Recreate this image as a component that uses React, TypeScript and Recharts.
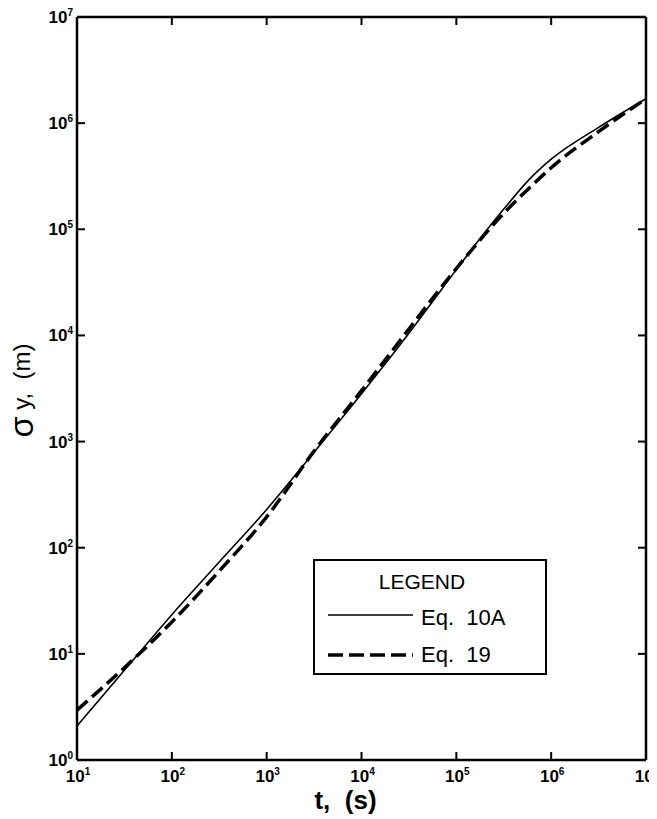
import { Legend, Line, LineChart, XAxis, YAxis } from 'recharts'

// t in seconds, sigma_y in metres
const TIMES = [10, 31.6, 100, 316, 1000, 3162, 10000, 31623, 56234, 100000, 316228, 588844, 1000000, 3162278, 10000000]
const EQ_10A = [2.09, 7.0, 23.4, 73.3, 229, 794, 2818, 10470, 20890, 41690, 154900, 295100, 457100, 912000, 1698000]
const EQ_19 = [2.95, 7.41, 19.95, 60.3, 195, 813, 3020, 11480, 22390, 42660, 141300, 245500, 380200, 831800, 1698000]

const X_TICKS = [10, 100, 1000, 10000, 100000, 1000000, 10000000]
const Y_TICKS = [1, 10, 100, 1000, 10000, 100000, 1000000, 10000000]

const SERIES = [
  { key: 'eq10a', name: 'Eq.  10A', width: 1.6, dash: undefined },
  { key: 'eq19', name: 'Eq.  19', width: 3.5, dash: '14 6' },
]

const data = TIMES.map((t, i) => ({ t, eq10a: EQ_10A[i], eq19: EQ_19[i] }))

const FONT = '"Liberation Sans", Arial, Helvetica, sans-serif'
const AXIS = { stroke: '#000', strokeWidth: 2.5 }
const TICK_LEN = 8

const expOf = (v: number) => Math.round(Math.log10(v))

function Pow({ x, y, e, anchor }: any) {
  return (
    <text x={x} y={y} textAnchor={anchor} fontSize={17} fontWeight="bold" fontFamily={FONT} fill="#000">
      10
      <tspan dy={-7} fontSize={10}>
        {e}
      </tspan>
    </text>
  )
}

const LeftTick = ({ x, y, payload }: any) => {
  const e = expOf(payload.value)
  return (
    <g>
      {e > 0 && e < 7 && <line x1={x} x2={x + TICK_LEN} y1={y} y2={y} stroke="#000" strokeWidth={2} />}
      <Pow x={x - 4} y={y + 6} e={e} anchor="end" />
    </g>
  )
}

const BottomTick = ({ x, y, payload }: any) => {
  const e = expOf(payload.value)
  return (
    <g>
      {e > 1 && e < 7 && <line x1={x} x2={x} y1={y} y2={y - TICK_LEN} stroke="#000" strokeWidth={2} />}
      <Pow x={x + 1} y={y + 22} e={e} anchor="middle" />
    </g>
  )
}

const TopTick = ({ x, y, payload }: any) => {
  const e = expOf(payload.value)
  if (e <= 1 || e >= 7) return <g />
  return <line x1={x} x2={x} y1={y} y2={y + TICK_LEN} stroke="#000" strokeWidth={2} />
}

const RightTick = ({ x, y, payload }: any) => {
  const e = expOf(payload.value)
  if (e <= 0 || e >= 7) return <g />
  return <line x1={x - TICK_LEN} x2={x} y1={y} y2={y} stroke="#000" strokeWidth={2} />
}

const XLabel = ({ viewBox }: any) => (
  <text
    x={viewBox.x + viewBox.width / 2 - 16}
    y={viewBox.y + 49}
    textAnchor="middle"
    fontSize={26}
    fontWeight="bold"
    fontFamily={FONT}
    xmlSpace="preserve"
  >
    t,  (s)
  </text>
)

const YLabel = ({ viewBox }: any) => {
  const cx = viewBox.x + 13
  const cy = viewBox.y + viewBox.height / 2 + 2
  return (
    <text
      x={cx}
      y={cy}
      transform={`rotate(-90 ${cx} ${cy})`}
      textAnchor="middle"
      dominantBaseline="central"
      fontSize={24}
      fontFamily={FONT}
      xmlSpace="preserve"
    >
      <tspan fontSize={34}>σ</tspan> y,  (m)
    </text>
  )
}

const renderLegend = () => (
  <svg width={234} height={116} style={{ display: 'block' }}>
    <rect x={1} y={1} width={232} height={114} fill="#fff" stroke="#000" strokeWidth={2} />
    <text x={109} y={30} textAnchor="middle" fontSize={21} fontFamily={FONT}>
      LEGEND
    </text>
    {SERIES.map((s, i) => (
      <g key={s.key}>
        <line
          x1={15}
          x2={100}
          y1={56 + i * 40}
          y2={56 + i * 40}
          stroke="#000"
          strokeWidth={s.width}
          strokeDasharray={s.dash ? '15 6' : undefined}
        />
        <text x={108} y={66 + i * 37} fontSize={22} fontFamily={FONT} xmlSpace="preserve">
          {s.name}
        </text>
      </g>
    ))}
  </svg>
)

export default function App() {
  return (
    <LineChart width={649} height={808} data={data} margin={{ top: 8, right: 10, bottom: 0, left: 0 }}>
      <XAxis
        dataKey="t"
        type="number"
        scale="log"
        domain={[10, 10000000]}
        allowDataOverflow
        ticks={X_TICKS}
        interval={0}
        height={56}
        tickSize={0}
        tickMargin={0}
        axisLine={AXIS}
        tickLine={false}
        tick={<BottomTick />}
        label={<XLabel />}
      />
      <XAxis
        xAxisId="top"
        orientation="top"
        dataKey="t"
        type="number"
        scale="log"
        domain={[10, 10000000]}
        allowDataOverflow
        ticks={X_TICKS}
        interval={0}
        height={1}
        tickSize={0}
        tickMargin={0}
        axisLine={AXIS}
        tickLine={false}
        tick={<TopTick />}
      />
      <YAxis
        type="number"
        scale="log"
        domain={[1, 10000000]}
        allowDataOverflow
        ticks={Y_TICKS}
        interval={0}
        width={69}
        tickSize={0}
        tickMargin={0}
        axisLine={AXIS}
        tickLine={false}
        tick={<LeftTick />}
        label={<YLabel />}
      />
      <YAxis
        yAxisId="right"
        orientation="right"
        type="number"
        scale="log"
        domain={[1, 10000000]}
        allowDataOverflow
        ticks={Y_TICKS}
        interval={0}
        width={1}
        tickSize={0}
        tickMargin={0}
        axisLine={AXIS}
        tickLine={false}
        tick={<RightTick />}
      />
      <Legend
        layout="vertical"
        align="center"
        verticalAlign="middle"
        content={renderLegend}
        wrapperStyle={{ left: 305, top: 551, width: 234, height: 116 }}
      />
      {SERIES.map((s) => (
        <Line
          key={s.key}
          type="monotone"
          dataKey={s.key}
          name={s.name}
          stroke="#000"
          strokeWidth={s.width}
          strokeDasharray={s.dash}
          dot={false}
          isAnimationActive={false}
        />
      ))}
    </LineChart>
  )
}
